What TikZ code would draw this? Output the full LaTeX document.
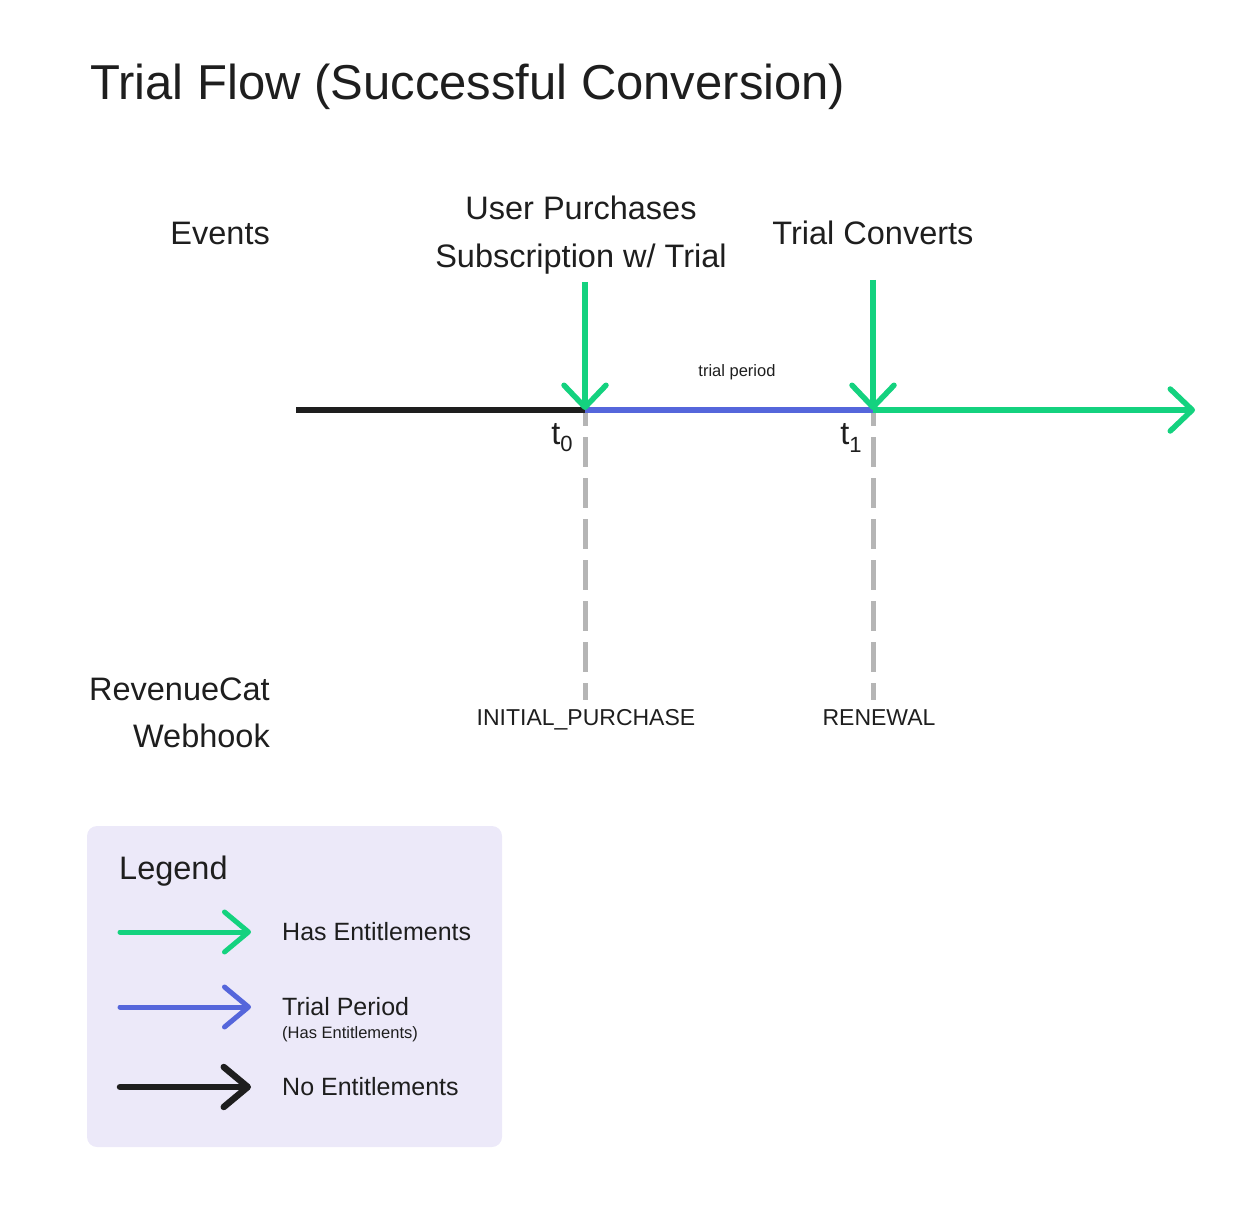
\documentclass[tikz,border=0pt]{standalone}
\usepackage{fontspec}
\setmainfont{Liberation Sans}
\usetikzlibrary{arrows.meta}
\definecolor{cgreen}{HTML}{14D27F}
\definecolor{cblue}{HTML}{5566DB}
\definecolor{cblack}{HTML}{1E1E1E}
\definecolor{cgray}{HTML}{B5B5B5}
\definecolor{clegend}{HTML}{ECE9F9}
\definecolor{ctext}{HTML}{1E1E1E}
\begin{document}
\begin{tikzpicture}[x=1pt,y=-1pt,
  tline/.style={line width=5.5pt},
  chev/.style={-{Straight Barb[length=22pt,width=42pt,line width=5.5pt,round]}},
  lchev/.style={line cap=round,-{Straight Barb[length=24pt,width=40pt,line width=#1,round]}},
  dashgray/.style={cgray,line width=5pt,dash pattern=on 30pt off 11pt,dash phase=14pt},
  txt/.style={inner sep=0pt,text=ctext},
  ftitle/.style={font=\fontsize{49}{58}\selectfont},
  fbig/.style={font=\fontsize{32.5}{38}\selectfont},
  fmid/.style={font=\fontsize{23}{28}\selectfont},
  fleg/.style={font=\fontsize{25}{30}\selectfont},
  fsmall/.style={font=\fontsize{16.5}{20}\selectfont}]
\useasboundingbox (0,0) rectangle (1248,1206);
% title
\node[txt,ftitle,anchor=base west] (title) at (90,100) {Trial Flow (Successful Conversion)};
% row labels
\node[txt,fbig,anchor=base east] (events) at (270,245) {Events};
\node[txt,fbig,anchor=base east] (rc1) at (270,700) {RevenueCat};
\node[txt,fbig,anchor=base east] (rc2) at (270,747) {Webhook};
% event labels
\node[txt,fbig,anchor=base] (ev1a) at (581,220) {User Purchases};
\node[txt,fbig,anchor=base] (ev1b) at (581,268) {Subscription w/ Trial};
\node[txt,fbig,anchor=base] (ev2) at (873,245) {Trial Converts};
% coordinates
\coordinate (start) at (296,410);
\coordinate (t0) at (585,410);
\coordinate (t1) at (873,410);
\coordinate (tend) at (1195,410);
\coordinate (a0) at (585,282);
\coordinate (a1) at (873,280);
\coordinate (d0) at (585,700);
\coordinate (d1) at (873,700);
% dashed
\draw[dashgray] (t0) -- (d0);
\draw[dashgray] (t1) -- (d1);
% timeline
\draw[tline,cblack] (start) -- (t0);
\draw[tline,cblue] (t0) -- (t1);
\draw[tline,cgreen,chev] (t1) -- (tend);
\draw[tline,cgreen,chev] (a0) -- (t0);
\draw[tline,cgreen,chev] (a1) -- (t1);
% labels on timeline
\node[txt,fbig,fill=white,inner sep=1pt] (lt0) at (562,438) {t\raisebox{-0.22em}{\fontsize{22}{24}\selectfont 0}};
\node[txt,fbig,fill=white,inner sep=1pt] (lt1) at (851,438) {t\raisebox{-0.22em}{\fontsize{22}{24}\selectfont 1}};
\node[txt,fsmall] (tp) at (737,372) {trial period};
\node[txt,fmid,anchor=base] (ip) at (586,725) {INITIAL\_PURCHASE};
\node[txt,fmid,anchor=base] (rn) at (879,725) {RENEWAL};
% legend
\fill[clegend,rounded corners=10pt] (87,826) rectangle (502,1147);
\node[txt,fbig,anchor=base west] (legt) at (119,879) {Legend};
\coordinate (l1a) at (120,932); \coordinate (l1b) at (251,932);
\coordinate (l2a) at (120,1007); \coordinate (l2b) at (251,1007);
\coordinate (l3a) at (120,1087); \coordinate (l3b) at (251,1087);
\draw[cgreen,line width=5pt,lchev=5pt] (l1a) -- (l1b);
\draw[cblue,line width=5pt,lchev=5pt] (l2a) -- (l2b);
\draw[cblack,line width=6.5pt,lchev=6.5pt] (l3a) -- (l3b);
\node[txt,fleg,anchor=base west] (lg1) at (282,940) {Has Entitlements};
\node[txt,fleg,anchor=base west] (lg2) at (282,1015) {Trial Period};
\node[txt,fsmall,anchor=base west] (lg2b) at (282,1038) {(Has Entitlements)};
\node[txt,fleg,anchor=base west] (lg3) at (282,1095) {No Entitlements};
\end{tikzpicture}
\end{document}
